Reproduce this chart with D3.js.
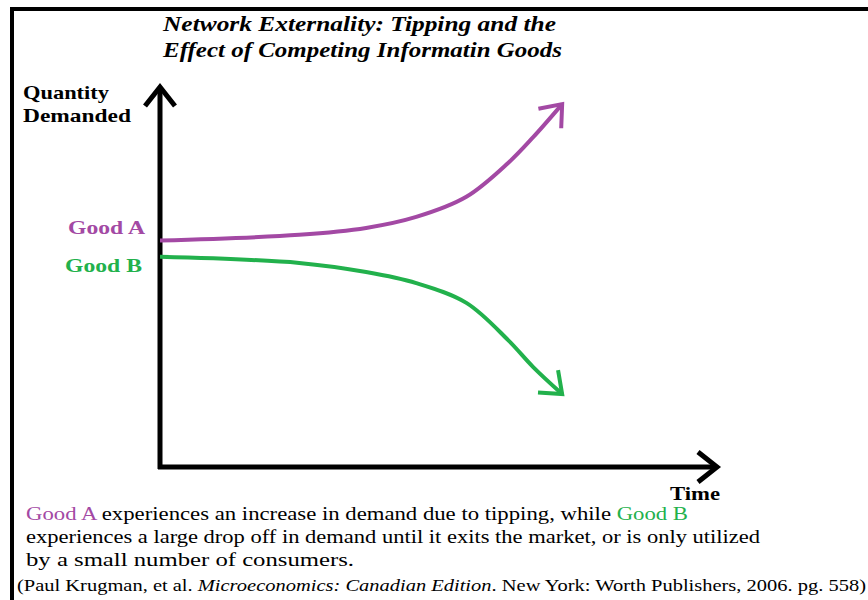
<!DOCTYPE html>
<html>
<style type="text/css">
body { margin: 0; background: #fff; }
</style>
<head></head>
<body>
<script src="https://d3js.org/d3.v7.min.js"></script>
<script>
// data (time units along x, quantity units along y)
var time  = [0, 2.5, 3.7, 4.6, 5.5, 6.25, 6.7, 7.22];
var goodA = [5.96, 6.11, 6.29, 6.58, 7.11, 8.0, 8.68, 9.55];
var goodB = [5.53, 5.37, 5.13, 4.84, 4.32, 3.34, 2.63, 1.92];
var titleLines = ["Network Externality: Tipping and the", "Effect of Competing Informatin Goods"];
var seriesNames = ["Good A", "Good B"];
var colors = ["#a349a4", "#22b14c"];

var W = 868, H = 600;
var svg = d3.select("body").append("svg")
    .attr("width", W).attr("height", H)
    .style("font-family", "'Liberation Serif', 'Times New Roman', serif");

// scales: axis origin at (160,467), arrow tips at x=717 / y=87
var x = d3.scaleLinear().domain([0, 10]).range([160, 717]);
var y = d3.scaleLinear().domain([0, 10]).range([467, 87]);

// arrow markers
var defs = svg.append("defs");
function marker(id, col, w) {
  defs.append("marker")
    .attr("id", id)
    .attr("markerUnits", "userSpaceOnUse")
    .attr("viewBox", "-30 -22 34 44")
    .attr("markerWidth", 34).attr("markerHeight", 44)
    .attr("refX", 0).attr("refY", 0)
    .attr("orient", "auto")
    .style("overflow", "visible")
    .append("path")
      .attr("d", "M-19,-15L0,0L-19,15")
      .attr("fill", "none")
      .attr("stroke", col)
      .attr("stroke-width", w)
      .attr("stroke-linejoin", "miter");
}
marker("arrA", colors[0], 4);
marker("arrB", colors[1], 4);
marker("arrK", "#000", 5);

// frame (top and left black edges)
svg.append("line").attr("x1", 10).attr("x2", W).attr("y1", 9).attr("y2", 9)
  .attr("stroke", "#000").attr("stroke-width", 4);
svg.append("line").attr("x1", 12).attr("x2", 12).attr("y1", 7).attr("y2", H)
  .attr("stroke", "#000").attr("stroke-width", 4);

// title
svg.selectAll(".title").data(titleLines).enter().append("text")
  .attr("class", "title")
  .attr("x", 163)
  .attr("y", function(d, i) { return 31 + i * 26; })
  .attr("textLength", function(d, i) { return i == 0 ? 393 : 399; })
  .attr("lengthAdjust", "spacingAndGlyphs")
  .style("font-size", "21px").style("font-weight", "bold").style("font-style", "italic")
  .text(function(d) { return d; });

// axes
svg.append("line")
  .attr("x1", x(0)).attr("x2", x(0)).attr("y1", y(0) + 2).attr("y2", y(10))
  .attr("stroke", "#000").attr("stroke-width", 5)
  .attr("marker-end", "url(#arrK)");
svg.append("line")
  .attr("x1", x(0) - 2).attr("x2", x(10)).attr("y1", y(0)).attr("y2", y(0))
  .attr("stroke", "#000").attr("stroke-width", 5)
  .attr("marker-end", "url(#arrK)");

// axis titles
svg.append("text").attr("x", 23).attr("y", 99)
  .attr("textLength", 86).attr("lengthAdjust", "spacingAndGlyphs")
  .style("font-size", "19px").style("font-weight", "bold").text("Quantity");
svg.append("text").attr("x", 23).attr("y", 122)
  .attr("textLength", 108).attr("lengthAdjust", "spacingAndGlyphs")
  .style("font-size", "19px").style("font-weight", "bold").text("Demanded");
svg.append("text").attr("x", 670).attr("y", 500)
  .attr("textLength", 50).attr("lengthAdjust", "spacingAndGlyphs")
  .style("font-size", "19px").style("font-weight", "bold").text("Time");

// curves
var line = d3.line()
  .x(function(d) { return x(d[0]); })
  .y(function(d) { return y(d[1]); })
  .curve(d3.curveCatmullRom.alpha(0.5));

var series = [goodA, goodB];
series.forEach(function(vals, i) {
  var pts = time.map(function(t, j) { return [t, vals[j]]; });
  svg.append("path")
    .attr("d", line(pts))
    .attr("fill", "none")
    .attr("stroke", colors[i])
    .attr("stroke-width", 4)
    .attr("marker-end", i == 0 ? "url(#arrA)" : "url(#arrB)");
  // series label left of the y axis
  svg.append("text")
    .attr("x", i == 0 ? 68 : 65)
    .attr("y", i == 0 ? 234 : 272)
    .attr("textLength", 77).attr("lengthAdjust", "spacingAndGlyphs")
    .style("font-size", "19px").style("font-weight", "bold")
    .attr("fill", colors[i])
    .text(seriesNames[i]);
});

// caption
var cap = svg.append("g").style("font-size", "19px");
var l1 = cap.append("text").attr("x", 26).attr("y", 520)
  .attr("textLength", 662).attr("lengthAdjust", "spacingAndGlyphs");
l1.append("tspan").attr("fill", colors[0]).text("Good A");
l1.append("tspan").attr("fill", "#000").text(" experiences an increase in demand due to tipping, while ");
l1.append("tspan").attr("fill", colors[1]).text("Good B");
cap.append("text").attr("x", 26).attr("y", 543)
  .attr("textLength", 734).attr("lengthAdjust", "spacingAndGlyphs")
  .text("experiences a large drop off in demand until it exits the market, or is only utilized");
cap.append("text").attr("x", 26).attr("y", 566)
  .attr("textLength", 328).attr("lengthAdjust", "spacingAndGlyphs")
  .text("by a small number of consumers.");

// source
var src = svg.append("text").attr("x", 17).attr("y", 591)
  .style("font-size", "17px")
  .attr("textLength", 849).attr("lengthAdjust", "spacingAndGlyphs");
src.append("tspan").text("(Paul Krugman, et al. ");
src.append("tspan").style("font-style", "italic").text("Microeconomics: Canadian Edition");
src.append("tspan").text(". New York: Worth Publishers, 2006. pg. 558)");
</script>
</body>
</html>
